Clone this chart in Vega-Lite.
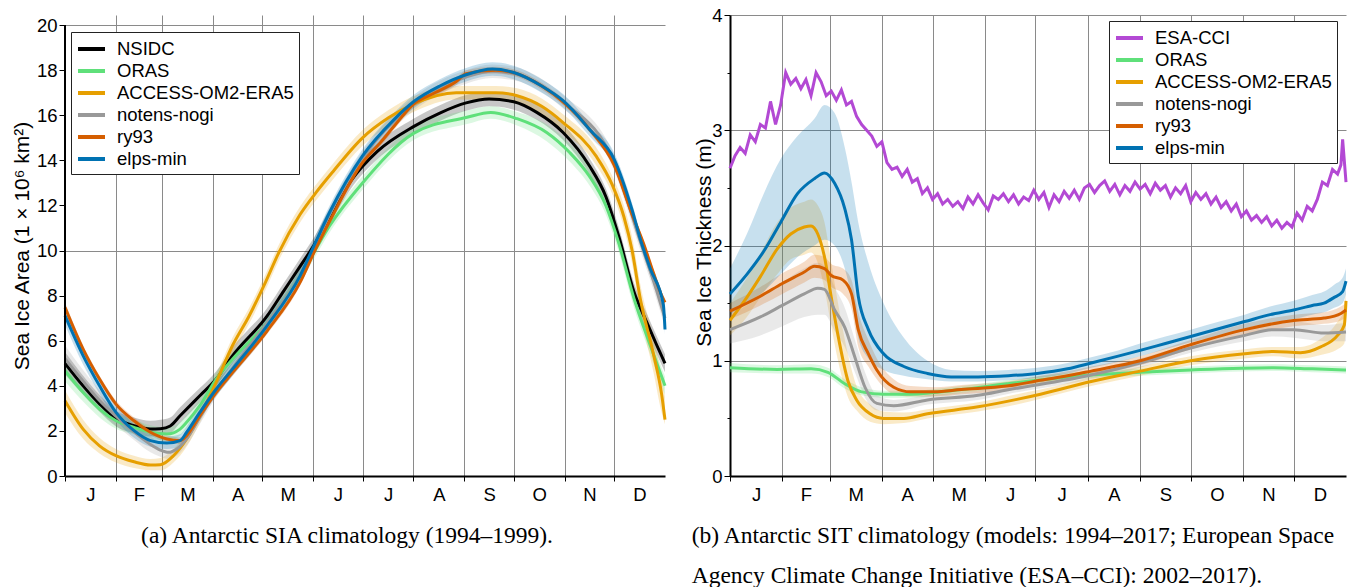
{
"$schema": "https://vega.github.io/schema/vega-lite/v6.json",
"background": "white",
"padding": {"left": 11, "top": 6, "right": 0, "bottom": 0},
"spacing": 20,
"config": {
  "view": {"stroke": null},
  "font": "Liberation Sans",
  "axis": {"labelFont": "Liberation Sans", "labelFontSize": 18.5, "labelColor": "black", "titleFont": "Liberation Sans", "titleFontSize": 21, "titleFontWeight": "normal", "titleColor": "black", "gridColor": "#8a8a8a", "gridWidth": 1, "tickColor": "black", "domainColor": "black", "domainWidth": 2, "tickWidth": 1, "labelPadding": 2, "labelOverlap": false, "labelFlush": false},
  "legend": {"labelFont": "Liberation Sans", "labelFontSize": 18.5, "labelColor": "black", "labelLimit": 400, "symbolType": "M-1,0H1.7", "symbolStrokeWidth": 4, "symbolSize": 400, "symbolOpacity": 1, "strokeColor": "#222222", "padding": 5, "labelOffset": 17, "rowPadding": -0.8, "fillColor": "white", "cornerRadius": 0},
  "title": {"font": "Liberation Serif", "fontSize": 23.5, "fontWeight": "normal", "color": "black"}
},
"datasets": {
"sia": [
{"s":"NSIDC","d":0,"v":5.0,"lo":4.5,"hi":5.5},{"s":"NSIDC","d":11,"v":4.0,"lo":3.6,"hi":4.45},{"s":"NSIDC","d":21,"v":3.2,"lo":2.85,"hi":3.6},{"s":"NSIDC","d":31,"v":2.55,"lo":2.2,"hi":2.9},{"s":"NSIDC","d":42,"v":2.23,"lo":1.9,"hi":2.6},{"s":"NSIDC","d":52,"v":2.08,"lo":1.75,"hi":2.45},{"s":"NSIDC","d":58,"v":2.1,"lo":1.8,"hi":2.5},{"s":"NSIDC","d":64,"v":2.22,"lo":1.9,"hi":2.6},{"s":"NSIDC","d":70,"v":2.67,"lo":2.35,"hi":3.05},{"s":"NSIDC","d":82,"v":3.56,"lo":3.25,"hi":3.9},{"s":"NSIDC","d":92,"v":4.3,"lo":4.0,"hi":4.65},{"s":"NSIDC","d":102,"v":5.34,"lo":5.0,"hi":5.7},{"s":"NSIDC","d":123,"v":7.1,"lo":6.75,"hi":7.45},{"s":"NSIDC","d":133,"v":8.2,"lo":7.85,"hi":8.55},{"s":"NSIDC","d":143,"v":9.3,"lo":8.95,"hi":9.65},{"s":"NSIDC","d":152,"v":10.3,"lo":9.95,"hi":10.65},{"s":"NSIDC","d":161,"v":11.5,"lo":11.15,"hi":11.85},{"s":"NSIDC","d":174,"v":13.1,"lo":12.75,"hi":13.45},{"s":"NSIDC","d":190,"v":14.4,"lo":14.05,"hi":14.75},{"s":"NSIDC","d":212,"v":15.5,"lo":15.15,"hi":15.85},{"s":"NSIDC","d":228,"v":16.1,"lo":15.75,"hi":16.45},{"s":"NSIDC","d":244,"v":16.55,"lo":16.2,"hi":16.9},{"s":"NSIDC","d":258,"v":16.72,"lo":16.4,"hi":17.05},{"s":"NSIDC","d":273,"v":16.6,"lo":16.25,"hi":16.95},{"s":"NSIDC","d":287,"v":16.13,"lo":15.8,"hi":16.5},{"s":"NSIDC","d":303,"v":15.24,"lo":14.9,"hi":15.6},{"s":"NSIDC","d":319,"v":13.76,"lo":13.4,"hi":14.1},{"s":"NSIDC","d":329,"v":12.4,"lo":12.05,"hi":12.75},{"s":"NSIDC","d":337,"v":10.6,"lo":10.2,"hi":11.0},{"s":"NSIDC","d":346,"v":8.2,"lo":7.8,"hi":8.6},{"s":"NSIDC","d":354,"v":6.8,"lo":6.4,"hi":7.2},{"s":"NSIDC","d":360,"v":5.8,"lo":5.4,"hi":6.2},{"s":"NSIDC","d":365,"v":5.0,"lo":4.6,"hi":5.4},
{"s":"ORAS","d":0,"v":4.67,"lo":4.2,"hi":5.1},{"s":"ORAS","d":11,"v":3.71,"lo":3.3,"hi":4.1},{"s":"ORAS","d":21,"v":2.97,"lo":2.6,"hi":3.35},{"s":"ORAS","d":31,"v":2.45,"lo":2.1,"hi":2.8},{"s":"ORAS","d":42,"v":2.16,"lo":1.85,"hi":2.5},{"s":"ORAS","d":52,"v":1.94,"lo":1.65,"hi":2.25},{"s":"ORAS","d":62,"v":1.86,"lo":1.55,"hi":2.15},{"s":"ORAS","d":70,"v":2.08,"lo":1.8,"hi":2.4},{"s":"ORAS","d":74,"v":2.38,"lo":2.1,"hi":2.7},{"s":"ORAS","d":82,"v":3.12,"lo":2.8,"hi":3.45},{"s":"ORAS","d":92,"v":4.3,"lo":4.0,"hi":4.6},{"s":"ORAS","d":102,"v":5.19,"lo":4.9,"hi":5.5},{"s":"ORAS","d":123,"v":6.81,"lo":6.5,"hi":7.1},{"s":"ORAS","d":143,"v":8.88,"lo":8.55,"hi":9.2},{"s":"ORAS","d":152,"v":10.0,"lo":9.7,"hi":10.3},{"s":"ORAS","d":161,"v":11.1,"lo":10.8,"hi":11.4},{"s":"ORAS","d":181,"v":13.0,"lo":12.7,"hi":13.3},{"s":"ORAS","d":212,"v":15.2,"lo":14.9,"hi":15.5},{"s":"ORAS","d":244,"v":15.9,"lo":15.6,"hi":16.2},{"s":"ORAS","d":259,"v":16.13,"lo":15.85,"hi":16.4},{"s":"ORAS","d":275,"v":15.85,"lo":15.55,"hi":16.15},{"s":"ORAS","d":293,"v":15.24,"lo":14.85,"hi":15.6},{"s":"ORAS","d":307,"v":14.35,"lo":13.95,"hi":14.75},{"s":"ORAS","d":319,"v":13.3,"lo":12.9,"hi":13.7},{"s":"ORAS","d":329,"v":12.0,"lo":11.6,"hi":12.4},{"s":"ORAS","d":337,"v":10.3,"lo":9.9,"hi":10.7},{"s":"ORAS","d":346,"v":7.9,"lo":7.5,"hi":8.3},{"s":"ORAS","d":355,"v":6.0,"lo":5.6,"hi":6.4},{"s":"ORAS","d":360,"v":5.0,"lo":4.6,"hi":5.4},{"s":"ORAS","d":365,"v":4.0,"lo":3.6,"hi":4.4},
{"s":"ACCESS-OM2-ERA5","d":0,"v":3.34,"lo":2.8,"hi":3.8},{"s":"ACCESS-OM2-ERA5","d":11,"v":2.08,"lo":1.65,"hi":2.5},{"s":"ACCESS-OM2-ERA5","d":21,"v":1.34,"lo":1.0,"hi":1.7},{"s":"ACCESS-OM2-ERA5","d":31,"v":0.9,"lo":0.6,"hi":1.2},{"s":"ACCESS-OM2-ERA5","d":42,"v":0.63,"lo":0.35,"hi":0.9},{"s":"ACCESS-OM2-ERA5","d":52,"v":0.49,"lo":0.25,"hi":0.75},{"s":"ACCESS-OM2-ERA5","d":58,"v":0.5,"lo":0.25,"hi":0.8},{"s":"ACCESS-OM2-ERA5","d":66,"v":0.9,"lo":0.6,"hi":1.2},{"s":"ACCESS-OM2-ERA5","d":74,"v":1.64,"lo":1.3,"hi":1.95},{"s":"ACCESS-OM2-ERA5","d":82,"v":2.67,"lo":2.35,"hi":3.0},{"s":"ACCESS-OM2-ERA5","d":92,"v":4.16,"lo":3.85,"hi":4.5},{"s":"ACCESS-OM2-ERA5","d":102,"v":5.8,"lo":5.45,"hi":6.15},{"s":"ACCESS-OM2-ERA5","d":112,"v":7.1,"lo":6.75,"hi":7.45},{"s":"ACCESS-OM2-ERA5","d":122,"v":8.6,"lo":8.25,"hi":8.95},{"s":"ACCESS-OM2-ERA5","d":130,"v":9.9,"lo":9.55,"hi":10.25},{"s":"ACCESS-OM2-ERA5","d":143,"v":11.6,"lo":11.25,"hi":11.95},{"s":"ACCESS-OM2-ERA5","d":153,"v":12.6,"lo":12.25,"hi":12.95},{"s":"ACCESS-OM2-ERA5","d":163,"v":13.5,"lo":13.15,"hi":13.85},{"s":"ACCESS-OM2-ERA5","d":181,"v":15.0,"lo":14.65,"hi":15.35},{"s":"ACCESS-OM2-ERA5","d":197,"v":15.9,"lo":15.55,"hi":16.25},{"s":"ACCESS-OM2-ERA5","d":212,"v":16.5,"lo":16.15,"hi":16.85},{"s":"ACCESS-OM2-ERA5","d":238,"v":17.0,"lo":16.7,"hi":17.3},{"s":"ACCESS-OM2-ERA5","d":262,"v":17.0,"lo":16.7,"hi":17.3},{"s":"ACCESS-OM2-ERA5","d":275,"v":16.87,"lo":16.55,"hi":17.2},{"s":"ACCESS-OM2-ERA5","d":290,"v":16.4,"lo":16.05,"hi":16.75},{"s":"ACCESS-OM2-ERA5","d":303,"v":15.68,"lo":15.3,"hi":16.05},{"s":"ACCESS-OM2-ERA5","d":323,"v":14.2,"lo":13.8,"hi":14.6},{"s":"ACCESS-OM2-ERA5","d":333,"v":12.9,"lo":12.5,"hi":13.3},{"s":"ACCESS-OM2-ERA5","d":340,"v":11.5,"lo":11.0,"hi":12.0},{"s":"ACCESS-OM2-ERA5","d":345,"v":10.0,"lo":9.4,"hi":10.6},{"s":"ACCESS-OM2-ERA5","d":350,"v":7.85,"lo":7.2,"hi":8.5},{"s":"ACCESS-OM2-ERA5","d":358,"v":5.4,"lo":4.6,"hi":6.1},{"s":"ACCESS-OM2-ERA5","d":363,"v":3.6,"lo":2.8,"hi":4.4},{"s":"ACCESS-OM2-ERA5","d":365,"v":2.5,"lo":2.3,"hi":3.5},
{"s":"notens-nogi","d":0,"v":5.2,"lo":4.6,"hi":5.8},{"s":"notens-nogi","d":11,"v":4.2,"lo":3.7,"hi":4.7},{"s":"notens-nogi","d":21,"v":3.35,"lo":2.9,"hi":3.8},{"s":"notens-nogi","d":31,"v":2.65,"lo":2.25,"hi":3.05},{"s":"notens-nogi","d":42,"v":1.95,"lo":1.6,"hi":2.3},{"s":"notens-nogi","d":52,"v":1.4,"lo":1.05,"hi":1.75},{"s":"notens-nogi","d":58,"v":1.15,"lo":0.85,"hi":1.5},{"s":"notens-nogi","d":63,"v":1.05,"lo":0.75,"hi":1.4},{"s":"notens-nogi","d":68,"v":1.2,"lo":0.9,"hi":1.55},{"s":"notens-nogi","d":74,"v":1.65,"lo":1.35,"hi":1.95},{"s":"notens-nogi","d":82,"v":2.6,"lo":2.3,"hi":2.9},{"s":"notens-nogi","d":92,"v":3.8,"lo":3.5,"hi":4.1},{"s":"notens-nogi","d":102,"v":4.8,"lo":4.5,"hi":5.1},{"s":"notens-nogi","d":123,"v":6.8,"lo":6.5,"hi":7.1},{"s":"notens-nogi","d":143,"v":8.9,"lo":8.6,"hi":9.2},{"s":"notens-nogi","d":152,"v":10.2,"lo":9.9,"hi":10.5},{"s":"notens-nogi","d":161,"v":11.6,"lo":11.3,"hi":11.9},{"s":"notens-nogi","d":181,"v":14.1,"lo":13.8,"hi":14.4},{"s":"notens-nogi","d":212,"v":16.5,"lo":16.2,"hi":16.8},{"s":"notens-nogi","d":244,"v":17.7,"lo":17.4,"hi":18.0},{"s":"notens-nogi","d":260,"v":17.95,"lo":17.65,"hi":18.25},{"s":"notens-nogi","d":273,"v":17.85,"lo":17.55,"hi":18.15},{"s":"notens-nogi","d":303,"v":16.6,"lo":16.3,"hi":16.9},{"s":"notens-nogi","d":334,"v":13.9,"lo":13.55,"hi":14.25},{"s":"notens-nogi","d":350,"v":10.4,"lo":10.0,"hi":10.8},{"s":"notens-nogi","d":360,"v":8.2,"lo":7.8,"hi":8.6},{"s":"notens-nogi","d":365,"v":7.0,"lo":6.6,"hi":7.4},
{"s":"ry93","d":0,"v":7.48,"lo":7.3,"hi":7.7},{"s":"ry93","d":11,"v":5.63,"lo":5.45,"hi":5.8},{"s":"ry93","d":21,"v":4.3,"lo":4.15,"hi":4.45},{"s":"ry93","d":31,"v":3.19,"lo":3.05,"hi":3.35},{"s":"ry93","d":42,"v":2.45,"lo":2.3,"hi":2.6},{"s":"ry93","d":52,"v":1.94,"lo":1.8,"hi":2.1},{"s":"ry93","d":62,"v":1.64,"lo":1.5,"hi":1.8},{"s":"ry93","d":70,"v":1.57,"lo":1.42,"hi":1.72},{"s":"ry93","d":74,"v":1.79,"lo":1.64,"hi":1.94},{"s":"ry93","d":82,"v":2.67,"lo":2.52,"hi":2.82},{"s":"ry93","d":92,"v":3.71,"lo":3.56,"hi":3.86},{"s":"ry93","d":102,"v":4.6,"lo":4.45,"hi":4.75},{"s":"ry93","d":123,"v":6.44,"lo":6.29,"hi":6.6},{"s":"ry93","d":143,"v":8.59,"lo":8.44,"hi":8.75},{"s":"ry93","d":152,"v":10.0,"lo":9.85,"hi":10.15},{"s":"ry93","d":161,"v":11.3,"lo":11.15,"hi":11.45},{"s":"ry93","d":181,"v":13.9,"lo":13.75,"hi":14.05},{"s":"ry93","d":192,"v":14.8,"lo":14.65,"hi":14.95},{"s":"ry93","d":200,"v":15.5,"lo":15.35,"hi":15.65},{"s":"ry93","d":212,"v":16.5,"lo":16.35,"hi":16.65},{"s":"ry93","d":225,"v":17.0,"lo":16.85,"hi":17.15},{"s":"ry93","d":238,"v":17.5,"lo":17.35,"hi":17.65},{"s":"ry93","d":244,"v":17.85,"lo":17.7,"hi":18.0},{"s":"ry93","d":262,"v":18.0,"lo":17.85,"hi":18.15},{"s":"ry93","d":275,"v":17.85,"lo":17.7,"hi":18.0},{"s":"ry93","d":290,"v":17.3,"lo":17.15,"hi":17.45},{"s":"ry93","d":303,"v":16.6,"lo":16.45,"hi":16.75},{"s":"ry93","d":320,"v":15.3,"lo":15.15,"hi":15.45},{"s":"ry93","d":334,"v":13.8,"lo":13.65,"hi":13.95},{"s":"ry93","d":345,"v":11.6,"lo":11.45,"hi":11.75},{"s":"ry93","d":352,"v":10.3,"lo":10.15,"hi":10.45},{"s":"ry93","d":358,"v":9.0,"lo":8.85,"hi":9.15},{"s":"ry93","d":363,"v":8.0,"lo":7.85,"hi":8.15},{"s":"ry93","d":365,"v":7.7,"lo":7.55,"hi":7.85},
{"s":"elps-min","d":0,"v":7.11,"lo":6.7,"hi":7.5},{"s":"elps-min","d":11,"v":5.34,"lo":4.95,"hi":5.7},{"s":"elps-min","d":21,"v":4.0,"lo":3.65,"hi":4.35},{"s":"elps-min","d":31,"v":2.82,"lo":2.5,"hi":3.15},{"s":"elps-min","d":42,"v":2.01,"lo":1.7,"hi":2.3},{"s":"elps-min","d":52,"v":1.57,"lo":1.3,"hi":1.85},{"s":"elps-min","d":62,"v":1.46,"lo":1.2,"hi":1.75},{"s":"elps-min","d":70,"v":1.57,"lo":1.3,"hi":1.85},{"s":"elps-min","d":74,"v":1.94,"lo":1.65,"hi":2.2},{"s":"elps-min","d":82,"v":2.82,"lo":2.5,"hi":3.1},{"s":"elps-min","d":92,"v":3.86,"lo":3.55,"hi":4.15},{"s":"elps-min","d":102,"v":4.75,"lo":4.45,"hi":5.05},{"s":"elps-min","d":123,"v":6.67,"lo":6.35,"hi":7.0},{"s":"elps-min","d":143,"v":8.88,"lo":8.55,"hi":9.2},{"s":"elps-min","d":152,"v":10.3,"lo":10.0,"hi":10.6},{"s":"elps-min","d":161,"v":11.7,"lo":11.4,"hi":12.0},{"s":"elps-min","d":181,"v":14.2,"lo":13.9,"hi":14.5},{"s":"elps-min","d":200,"v":15.8,"lo":15.5,"hi":16.1},{"s":"elps-min","d":212,"v":16.6,"lo":16.3,"hi":16.9},{"s":"elps-min","d":228,"v":17.3,"lo":17.0,"hi":17.6},{"s":"elps-min","d":244,"v":17.8,"lo":17.5,"hi":18.1},{"s":"elps-min","d":260,"v":18.05,"lo":17.75,"hi":18.35},{"s":"elps-min","d":273,"v":17.9,"lo":17.6,"hi":18.2},{"s":"elps-min","d":290,"v":17.3,"lo":17.0,"hi":17.6},{"s":"elps-min","d":303,"v":16.65,"lo":16.35,"hi":16.95},{"s":"elps-min","d":320,"v":15.3,"lo":15.0,"hi":15.6},{"s":"elps-min","d":334,"v":14.06,"lo":13.75,"hi":14.35},{"s":"elps-min","d":345,"v":11.8,"lo":11.5,"hi":12.1},{"s":"elps-min","d":350,"v":10.5,"lo":10.2,"hi":10.8},{"s":"elps-min","d":356,"v":9.2,"lo":8.9,"hi":9.5},{"s":"elps-min","d":364,"v":7.6,"lo":7.3,"hi":7.9},{"s":"elps-min","d":365,"v":6.5,"lo":6.3,"hi":7.6}
],
"sit": [
{"s":"ESA-CCI","d":0,"v":2.67},{"s":"ESA-CCI","d":3,"v":2.78},{"s":"ESA-CCI","d":6,"v":2.85},{"s":"ESA-CCI","d":9,"v":2.8},{"s":"ESA-CCI","d":12,"v":2.96},{"s":"ESA-CCI","d":15,"v":2.9},{"s":"ESA-CCI","d":18,"v":3.05},{"s":"ESA-CCI","d":21,"v":3.02},{"s":"ESA-CCI","d":24,"v":3.25},{"s":"ESA-CCI","d":27,"v":3.05},{"s":"ESA-CCI","d":30,"v":3.22},{"s":"ESA-CCI","d":33,"v":3.5},{"s":"ESA-CCI","d":36,"v":3.4},{"s":"ESA-CCI","d":39,"v":3.45},{"s":"ESA-CCI","d":42,"v":3.36},{"s":"ESA-CCI","d":45,"v":3.44},{"s":"ESA-CCI","d":48,"v":3.3},{"s":"ESA-CCI","d":51,"v":3.5},{"s":"ESA-CCI","d":54,"v":3.42},{"s":"ESA-CCI","d":57,"v":3.3},{"s":"ESA-CCI","d":60,"v":3.34},{"s":"ESA-CCI","d":63,"v":3.26},{"s":"ESA-CCI","d":66,"v":3.35},{"s":"ESA-CCI","d":69,"v":3.22},{"s":"ESA-CCI","d":72,"v":3.25},{"s":"ESA-CCI","d":75,"v":3.12},{"s":"ESA-CCI","d":78,"v":3.05},{"s":"ESA-CCI","d":81,"v":3.0},{"s":"ESA-CCI","d":84,"v":2.95},{"s":"ESA-CCI","d":87,"v":2.86},{"s":"ESA-CCI","d":90,"v":2.9},{"s":"ESA-CCI","d":93,"v":2.72},{"s":"ESA-CCI","d":96,"v":2.66},{"s":"ESA-CCI","d":99,"v":2.68},{"s":"ESA-CCI","d":102,"v":2.6},{"s":"ESA-CCI","d":105,"v":2.66},{"s":"ESA-CCI","d":108,"v":2.55},{"s":"ESA-CCI","d":111,"v":2.58},{"s":"ESA-CCI","d":114,"v":2.45},{"s":"ESA-CCI","d":117,"v":2.5},{"s":"ESA-CCI","d":120,"v":2.4},{"s":"ESA-CCI","d":123,"v":2.45},{"s":"ESA-CCI","d":126,"v":2.36},{"s":"ESA-CCI","d":129,"v":2.4},{"s":"ESA-CCI","d":132,"v":2.34},{"s":"ESA-CCI","d":135,"v":2.38},{"s":"ESA-CCI","d":138,"v":2.32},{"s":"ESA-CCI","d":141,"v":2.42},{"s":"ESA-CCI","d":144,"v":2.36},{"s":"ESA-CCI","d":147,"v":2.44},{"s":"ESA-CCI","d":150,"v":2.37},{"s":"ESA-CCI","d":153,"v":2.31},{"s":"ESA-CCI","d":156,"v":2.43},{"s":"ESA-CCI","d":159,"v":2.4},{"s":"ESA-CCI","d":162,"v":2.45},{"s":"ESA-CCI","d":165,"v":2.38},{"s":"ESA-CCI","d":168,"v":2.44},{"s":"ESA-CCI","d":171,"v":2.36},{"s":"ESA-CCI","d":174,"v":2.42},{"s":"ESA-CCI","d":177,"v":2.39},{"s":"ESA-CCI","d":180,"v":2.48},{"s":"ESA-CCI","d":183,"v":2.4},{"s":"ESA-CCI","d":186,"v":2.46},{"s":"ESA-CCI","d":189,"v":2.33},{"s":"ESA-CCI","d":192,"v":2.44},{"s":"ESA-CCI","d":195,"v":2.38},{"s":"ESA-CCI","d":198,"v":2.47},{"s":"ESA-CCI","d":201,"v":2.41},{"s":"ESA-CCI","d":204,"v":2.48},{"s":"ESA-CCI","d":207,"v":2.4},{"s":"ESA-CCI","d":210,"v":2.5},{"s":"ESA-CCI","d":213,"v":2.53},{"s":"ESA-CCI","d":216,"v":2.46},{"s":"ESA-CCI","d":219,"v":2.52},{"s":"ESA-CCI","d":222,"v":2.56},{"s":"ESA-CCI","d":225,"v":2.47},{"s":"ESA-CCI","d":228,"v":2.53},{"s":"ESA-CCI","d":231,"v":2.44},{"s":"ESA-CCI","d":234,"v":2.52},{"s":"ESA-CCI","d":237,"v":2.47},{"s":"ESA-CCI","d":240,"v":2.55},{"s":"ESA-CCI","d":243,"v":2.49},{"s":"ESA-CCI","d":246,"v":2.53},{"s":"ESA-CCI","d":249,"v":2.45},{"s":"ESA-CCI","d":252,"v":2.54},{"s":"ESA-CCI","d":255,"v":2.48},{"s":"ESA-CCI","d":258,"v":2.52},{"s":"ESA-CCI","d":261,"v":2.42},{"s":"ESA-CCI","d":264,"v":2.5},{"s":"ESA-CCI","d":267,"v":2.45},{"s":"ESA-CCI","d":270,"v":2.52},{"s":"ESA-CCI","d":273,"v":2.38},{"s":"ESA-CCI","d":276,"v":2.46},{"s":"ESA-CCI","d":279,"v":2.4},{"s":"ESA-CCI","d":282,"v":2.45},{"s":"ESA-CCI","d":285,"v":2.36},{"s":"ESA-CCI","d":288,"v":2.42},{"s":"ESA-CCI","d":291,"v":2.33},{"s":"ESA-CCI","d":294,"v":2.38},{"s":"ESA-CCI","d":297,"v":2.3},{"s":"ESA-CCI","d":300,"v":2.36},{"s":"ESA-CCI","d":303,"v":2.25},{"s":"ESA-CCI","d":306,"v":2.3},{"s":"ESA-CCI","d":309,"v":2.22},{"s":"ESA-CCI","d":312,"v":2.26},{"s":"ESA-CCI","d":315,"v":2.2},{"s":"ESA-CCI","d":318,"v":2.25},{"s":"ESA-CCI","d":321,"v":2.17},{"s":"ESA-CCI","d":324,"v":2.22},{"s":"ESA-CCI","d":327,"v":2.15},{"s":"ESA-CCI","d":330,"v":2.2},{"s":"ESA-CCI","d":333,"v":2.16},{"s":"ESA-CCI","d":336,"v":2.28},{"s":"ESA-CCI","d":339,"v":2.22},{"s":"ESA-CCI","d":342,"v":2.34},{"s":"ESA-CCI","d":345,"v":2.3},{"s":"ESA-CCI","d":348,"v":2.4},{"s":"ESA-CCI","d":351,"v":2.55},{"s":"ESA-CCI","d":354,"v":2.52},{"s":"ESA-CCI","d":357,"v":2.66},{"s":"ESA-CCI","d":360,"v":2.62},{"s":"ESA-CCI","d":362,"v":2.7},{"s":"ESA-CCI","d":363,"v":2.92},{"s":"ESA-CCI","d":365,"v":2.55},
{"s":"ORAS","d":0,"v":0.94,"lo":0.9,"hi":0.98},{"s":"ORAS","d":28,"v":0.925,"lo":0.89,"hi":0.96},{"s":"ORAS","d":48,"v":0.93,"lo":0.89,"hi":0.97},{"s":"ORAS","d":58,"v":0.9,"lo":0.86,"hi":0.94},{"s":"ORAS","d":68,"v":0.8,"lo":0.76,"hi":0.84},{"s":"ORAS","d":78,"v":0.73,"lo":0.7,"hi":0.77},{"s":"ORAS","d":91,"v":0.71,"lo":0.68,"hi":0.74},{"s":"ORAS","d":107,"v":0.71,"lo":0.68,"hi":0.74},{"s":"ORAS","d":137,"v":0.75,"lo":0.72,"hi":0.78},{"s":"ORAS","d":164,"v":0.8,"lo":0.77,"hi":0.83},{"s":"ORAS","d":214,"v":0.876,"lo":0.85,"hi":0.91},{"s":"ORAS","d":243,"v":0.9,"lo":0.87,"hi":0.93},{"s":"ORAS","d":273,"v":0.92,"lo":0.89,"hi":0.95},{"s":"ORAS","d":322,"v":0.94,"lo":0.91,"hi":0.97},{"s":"ORAS","d":345,"v":0.93,"lo":0.9,"hi":0.96},{"s":"ORAS","d":365,"v":0.92,"lo":0.89,"hi":0.95},
{"s":"ACCESS-OM2-ERA5","d":0,"v":1.35,"lo":1.22,"hi":1.5},{"s":"ACCESS-OM2-ERA5","d":10,"v":1.55,"lo":1.38,"hi":1.72},{"s":"ACCESS-OM2-ERA5","d":18,"v":1.73,"lo":1.55,"hi":1.93},{"s":"ACCESS-OM2-ERA5","d":28,"v":1.97,"lo":1.75,"hi":2.2},{"s":"ACCESS-OM2-ERA5","d":36,"v":2.1,"lo":1.88,"hi":2.33},{"s":"ACCESS-OM2-ERA5","d":44,"v":2.16,"lo":1.92,"hi":2.38},{"s":"ACCESS-OM2-ERA5","d":48,"v":2.17,"lo":1.94,"hi":2.4},{"s":"ACCESS-OM2-ERA5","d":52,"v":2.1,"lo":1.85,"hi":2.35},{"s":"ACCESS-OM2-ERA5","d":56,"v":1.9,"lo":1.62,"hi":2.2},{"s":"ACCESS-OM2-ERA5","d":60,"v":1.55,"lo":1.3,"hi":1.85},{"s":"ACCESS-OM2-ERA5","d":64,"v":1.22,"lo":1.0,"hi":1.5},{"s":"ACCESS-OM2-ERA5","d":70,"v":0.82,"lo":0.68,"hi":1.05},{"s":"ACCESS-OM2-ERA5","d":75,"v":0.66,"lo":0.57,"hi":0.78},{"s":"ACCESS-OM2-ERA5","d":83,"v":0.54,"lo":0.47,"hi":0.62},{"s":"ACCESS-OM2-ERA5","d":91,"v":0.5,"lo":0.45,"hi":0.56},{"s":"ACCESS-OM2-ERA5","d":103,"v":0.5,"lo":0.46,"hi":0.55},{"s":"ACCESS-OM2-ERA5","d":117,"v":0.54,"lo":0.5,"hi":0.58},{"s":"ACCESS-OM2-ERA5","d":147,"v":0.6,"lo":0.56,"hi":0.64},{"s":"ACCESS-OM2-ERA5","d":170,"v":0.665,"lo":0.62,"hi":0.71},{"s":"ACCESS-OM2-ERA5","d":184,"v":0.71,"lo":0.67,"hi":0.75},{"s":"ACCESS-OM2-ERA5","d":214,"v":0.82,"lo":0.78,"hi":0.86},{"s":"ACCESS-OM2-ERA5","d":243,"v":0.91,"lo":0.87,"hi":0.95},{"s":"ACCESS-OM2-ERA5","d":273,"v":1.0,"lo":0.96,"hi":1.04},{"s":"ACCESS-OM2-ERA5","d":305,"v":1.06,"lo":1.02,"hi":1.1},{"s":"ACCESS-OM2-ERA5","d":322,"v":1.08,"lo":1.04,"hi":1.12},{"s":"ACCESS-OM2-ERA5","d":338,"v":1.07,"lo":1.02,"hi":1.12},{"s":"ACCESS-OM2-ERA5","d":350,"v":1.12,"lo":1.05,"hi":1.19},{"s":"ACCESS-OM2-ERA5","d":360,"v":1.22,"lo":1.1,"hi":1.34},{"s":"ACCESS-OM2-ERA5","d":364,"v":1.31,"lo":1.15,"hi":1.45},{"s":"ACCESS-OM2-ERA5","d":365,"v":1.52,"lo":1.3,"hi":1.6},
{"s":"notens-nogi","d":0,"v":1.27,"lo":1.15,"hi":1.4},{"s":"notens-nogi","d":18,"v":1.38,"lo":1.22,"hi":1.55},{"s":"notens-nogi","d":31,"v":1.48,"lo":1.3,"hi":1.68},{"s":"notens-nogi","d":44,"v":1.58,"lo":1.38,"hi":1.8},{"s":"notens-nogi","d":52,"v":1.63,"lo":1.4,"hi":1.85},{"s":"notens-nogi","d":56,"v":1.62,"lo":1.4,"hi":1.82},{"s":"notens-nogi","d":62,"v":1.44,"lo":1.26,"hi":1.64},{"s":"notens-nogi","d":68,"v":1.29,"lo":1.12,"hi":1.46},{"s":"notens-nogi","d":74,"v":1.03,"lo":0.9,"hi":1.18},{"s":"notens-nogi","d":80,"v":0.77,"lo":0.68,"hi":0.9},{"s":"notens-nogi","d":87,"v":0.63,"lo":0.57,"hi":0.7},{"s":"notens-nogi","d":97,"v":0.61,"lo":0.56,"hi":0.66},{"s":"notens-nogi","d":117,"v":0.66,"lo":0.62,"hi":0.7},{"s":"notens-nogi","d":147,"v":0.7,"lo":0.66,"hi":0.74},{"s":"notens-nogi","d":164,"v":0.746,"lo":0.71,"hi":0.79},{"s":"notens-nogi","d":214,"v":0.876,"lo":0.84,"hi":0.92},{"s":"notens-nogi","d":243,"v":0.98,"lo":0.94,"hi":1.02},{"s":"notens-nogi","d":273,"v":1.11,"lo":1.07,"hi":1.15},{"s":"notens-nogi","d":305,"v":1.22,"lo":1.17,"hi":1.27},{"s":"notens-nogi","d":322,"v":1.27,"lo":1.21,"hi":1.33},{"s":"notens-nogi","d":334,"v":1.27,"lo":1.2,"hi":1.34},{"s":"notens-nogi","d":352,"v":1.24,"lo":1.17,"hi":1.31},{"s":"notens-nogi","d":365,"v":1.25,"lo":1.17,"hi":1.33},
{"s":"ry93","d":0,"v":1.43,"lo":1.36,"hi":1.5},{"s":"ry93","d":18,"v":1.56,"lo":1.48,"hi":1.64},{"s":"ry93","d":31,"v":1.67,"lo":1.58,"hi":1.76},{"s":"ry93","d":44,"v":1.77,"lo":1.68,"hi":1.86},{"s":"ry93","d":50,"v":1.82,"lo":1.72,"hi":1.92},{"s":"ry93","d":56,"v":1.8,"lo":1.7,"hi":1.9},{"s":"ry93","d":60,"v":1.74,"lo":1.64,"hi":1.84},{"s":"ry93","d":67,"v":1.7,"lo":1.58,"hi":1.8},{"s":"ry93","d":72,"v":1.58,"lo":1.45,"hi":1.7},{"s":"ry93","d":76,"v":1.27,"lo":1.12,"hi":1.42},{"s":"ry93","d":82,"v":1.06,"lo":0.95,"hi":1.18},{"s":"ry93","d":87,"v":0.92,"lo":0.84,"hi":1.02},{"s":"ry93","d":97,"v":0.77,"lo":0.71,"hi":0.84},{"s":"ry93","d":107,"v":0.73,"lo":0.69,"hi":0.78},{"s":"ry93","d":121,"v":0.73,"lo":0.69,"hi":0.77},{"s":"ry93","d":137,"v":0.75,"lo":0.71,"hi":0.79},{"s":"ry93","d":164,"v":0.78,"lo":0.74,"hi":0.82},{"s":"ry93","d":184,"v":0.83,"lo":0.79,"hi":0.87},{"s":"ry93","d":204,"v":0.88,"lo":0.84,"hi":0.92},{"s":"ry93","d":214,"v":0.91,"lo":0.87,"hi":0.95},{"s":"ry93","d":243,"v":1.0,"lo":0.96,"hi":1.04},{"s":"ry93","d":273,"v":1.14,"lo":1.1,"hi":1.18},{"s":"ry93","d":305,"v":1.27,"lo":1.22,"hi":1.32},{"s":"ry93","d":334,"v":1.35,"lo":1.3,"hi":1.4},{"s":"ry93","d":352,"v":1.37,"lo":1.32,"hi":1.42},{"s":"ry93","d":362,"v":1.41,"lo":1.35,"hi":1.47},{"s":"ry93","d":365,"v":1.44,"lo":1.38,"hi":1.5},
{"s":"elps-min","d":0,"v":1.58,"lo":1.4,"hi":1.8},{"s":"elps-min","d":10,"v":1.75,"lo":1.5,"hi":2.1},{"s":"elps-min","d":20,"v":1.95,"lo":1.6,"hi":2.45},{"s":"elps-min","d":30,"v":2.2,"lo":1.75,"hi":2.75},{"s":"elps-min","d":40,"v":2.45,"lo":1.9,"hi":2.95},{"s":"elps-min","d":50,"v":2.58,"lo":2.0,"hi":3.1},{"s":"elps-min","d":56,"v":2.63,"lo":2.05,"hi":3.22},{"s":"elps-min","d":62,"v":2.54,"lo":2.0,"hi":3.15},{"s":"elps-min","d":68,"v":2.32,"lo":1.8,"hi":2.85},{"s":"elps-min","d":72,"v":2.05,"lo":1.55,"hi":2.55},{"s":"elps-min","d":76,"v":1.56,"lo":1.2,"hi":2.2},{"s":"elps-min","d":82,"v":1.27,"lo":1.02,"hi":1.85},{"s":"elps-min","d":91,"v":1.06,"lo":0.92,"hi":1.5},{"s":"elps-min","d":103,"v":0.95,"lo":0.87,"hi":1.2},{"s":"elps-min","d":117,"v":0.89,"lo":0.84,"hi":1.0},{"s":"elps-min","d":131,"v":0.86,"lo":0.82,"hi":0.92},{"s":"elps-min","d":147,"v":0.86,"lo":0.82,"hi":0.91},{"s":"elps-min","d":165,"v":0.87,"lo":0.83,"hi":0.92},{"s":"elps-min","d":182,"v":0.89,"lo":0.85,"hi":0.94},{"s":"elps-min","d":200,"v":0.93,"lo":0.89,"hi":0.98},{"s":"elps-min","d":214,"v":0.98,"lo":0.94,"hi":1.03},{"s":"elps-min","d":230,"v":1.04,"lo":0.99,"hi":1.09},{"s":"elps-min","d":243,"v":1.09,"lo":1.04,"hi":1.15},{"s":"elps-min","d":258,"v":1.15,"lo":1.1,"hi":1.21},{"s":"elps-min","d":273,"v":1.21,"lo":1.16,"hi":1.27},{"s":"elps-min","d":290,"v":1.28,"lo":1.22,"hi":1.34},{"s":"elps-min","d":305,"v":1.34,"lo":1.28,"hi":1.4},{"s":"elps-min","d":320,"v":1.4,"lo":1.33,"hi":1.47},{"s":"elps-min","d":334,"v":1.44,"lo":1.36,"hi":1.52},{"s":"elps-min","d":345,"v":1.48,"lo":1.4,"hi":1.57},{"s":"elps-min","d":352,"v":1.5,"lo":1.42,"hi":1.6},{"s":"elps-min","d":358,"v":1.55,"lo":1.46,"hi":1.66},{"s":"elps-min","d":363,"v":1.6,"lo":1.5,"hi":1.72},{"s":"elps-min","d":365,"v":1.69,"lo":1.58,"hi":1.8}
]
},
"hconcat": [
{
  "width": 600, "height": 461,
  "data": {"name": "sia"},
  "title": {"text": "(a) Antarctic SIA climatology (1994–1999).", "orient": "bottom", "anchor": "middle", "frame": "group", "dx": -18, "offset": 20},
  "encoding": {
    "x": {"field": "d", "type": "quantitative", "scale": {"domain": [0, 365], "nice": false, "zero": false},
          "axis": {"title": null, "domain": true, "values": [0,31,59,90,120,151,181,212,243,273,304,334,15.5,45,74.5,105,135.5,166,196.5,227.5,258,288.5,319,349.5],
                   "labelExpr": "datum.value==15.5?'J':datum.value==45?'F':datum.value==74.5?'M':datum.value==105?'A':datum.value==135.5?'M':datum.value==166?'J':datum.value==196.5?'J':datum.value==227.5?'A':datum.value==258?'S':datum.value==288.5?'O':datum.value==319?'N':datum.value==349.5?'D':''",
                   "grid": true,
                   "gridOpacity": {"condition": {"test": "indexof([31,59,90,120,151,181,212,243,273,304,334], datum.value) >= 0", "value": 1}, "value": 0},
                   "tickOpacity": {"condition": {"test": "indexof([0,31,59,90,120,151,181,212,243,273,304,334], datum.value) >= 0", "value": 1}, "value": 0},
                   "tickSize": 5, "labelPadding": 4}}
  },
  "layer": [
    {"mark": {"type": "area", "opacity": 0.22, "interpolate": "monotone"},
     "encoding": {
       "y": {"field": "lo", "type": "quantitative", "scale": {"domain": [0, 20.45], "nice": false, "zero": false}},
       "y2": {"field": "hi"},
       "color": {"field": "s", "type": "nominal", "scale": {"domain": ["NSIDC","ORAS","ACCESS-OM2-ERA5","notens-nogi","ry93","elps-min"], "range": ["#000000","#5fe07a","#e69f00","#999999","#d55e00","#0072b2"]},
                 "legend": {"orient": "none", "legendX": 6, "legendY": 17, "title": null}}
     }},
    {"mark": {"type": "line", "strokeWidth": 3, "interpolate": "monotone"},
     "encoding": {
       "y": {"field": "v", "type": "quantitative", "scale": {"domain": [0, 20.45], "nice": false, "zero": false},
             "axis": {"title": "Sea Ice Area (1 × 10⁶ km²)", "domain": false, "grid": true,
                      "values": [0,1,2,3,4,5,6,7,8,9,10,11,12,13,14,15,16,17,18,19,20],
                      "labelExpr": "datum.value % 2 == 0 ? datum.label : ''",
                      "gridOpacity": {"condition": {"test": "datum.value % 5 == 0 && datum.value > 0", "value": 1}, "value": 0},
                      "tickSize": {"condition": {"test": "datum.value % 2 == 0", "value": 6}, "value": 3},
                      "titlePadding": 4}},
       "color": {"field": "s", "type": "nominal", "scale": {"domain": ["NSIDC","ORAS","ACCESS-OM2-ERA5","notens-nogi","ry93","elps-min"], "range": ["#000000","#5fe07a","#e69f00","#999999","#d55e00","#0072b2"]},
                 "legend": {"orient": "none", "legendX": 6, "legendY": 17, "title": null}}
     }},
    {"mark": {"type": "rule", "strokeWidth": 2, "color": "black"},
     "encoding": {
       "x": {"datum": 0, "type": "quantitative"},
       "y": {"datum": 0, "type": "quantitative"},
       "y2": {"datum": 20}
     }}
  ]
},
{
  "width": 616, "height": 461,
  "data": {"name": "sit"},
  "title": {"text": ["(b) Antarctic SIT climatology (models: 1994–2017; European Space", "Agency Climate Change Initiative (ESA–CCI): 2002–2017)."], "orient": "bottom", "anchor": "start", "frame": "bounds", "dx": -2, "offset": 20, "lineHeight": 40},
  "encoding": {
    "x": {"field": "d", "type": "quantitative", "scale": {"domain": [0, 365], "nice": false, "zero": false},
          "axis": {"title": null, "domain": true, "values": [0,31,59,90,120,151,181,212,243,273,304,334,15.5,45,74.5,105,135.5,166,196.5,227.5,258,288.5,319,349.5],
                   "labelExpr": "datum.value==15.5?'J':datum.value==45?'F':datum.value==74.5?'M':datum.value==105?'A':datum.value==135.5?'M':datum.value==166?'J':datum.value==196.5?'J':datum.value==227.5?'A':datum.value==258?'S':datum.value==288.5?'O':datum.value==319?'N':datum.value==349.5?'D':''",
                   "grid": true,
                   "gridOpacity": {"condition": {"test": "indexof([31,59,90,120,151,181,212,243,273,304,334], datum.value) >= 0", "value": 1}, "value": 0},
                   "tickOpacity": {"condition": {"test": "indexof([0,31,59,90,120,151,181,212,243,273,304,334], datum.value) >= 0", "value": 1}, "value": 0},
                   "tickSize": 5, "labelPadding": 4}},
    "color": {"field": "s", "type": "nominal", "scale": {"domain": ["ESA-CCI","ORAS","ACCESS-OM2-ERA5","notens-nogi","ry93","elps-min"], "range": ["#b349d4","#5fe07a","#e69f00","#999999","#d55e00","#0072b2"]},
              "legend": {"orient": "none", "legendX": 379, "legendY": 6, "title": null}}
  },
  "layer": [
    {"transform": [{"filter": "datum.lo != null"}],
     "mark": {"type": "area", "opacity": 0.22, "interpolate": "monotone"},
     "encoding": {
       "y": {"field": "lo", "type": "quantitative", "scale": {"domain": [0, 4], "nice": false, "zero": false}},
       "y2": {"field": "hi"}
     }},
    {"transform": [{"filter": "datum.s == 'ESA-CCI'"}],
     "mark": {"type": "line", "strokeWidth": 3},
     "encoding": {
       "y": {"field": "v", "type": "quantitative", "scale": {"domain": [0, 4], "nice": false, "zero": false}}
     }},
    {"transform": [{"filter": "datum.s != 'ESA-CCI'"}],
     "mark": {"type": "line", "strokeWidth": 3, "interpolate": "monotone"},
     "encoding": {
       "y": {"field": "v", "type": "quantitative", "scale": {"domain": [0, 4], "nice": false, "zero": false},
             "axis": {"title": "Sea Ice Thickness (m)", "domain": true, "grid": true,
                      "values": [0,0.5,1,1.5,2,2.5,3,3.5,4],
                      "labelExpr": "datum.value % 1 == 0 ? format(datum.value, 'd') : ''",
                      "gridOpacity": {"condition": {"test": "datum.value % 1 == 0 && datum.value > 0", "value": 1}, "value": 0},
                      "tickSize": {"condition": {"test": "datum.value % 1 == 0", "value": 6}, "value": 3},
                      "titlePadding": -3, "titleY": 227}}
     }}
  ]
}
],
"resolve": {"scale": {"color": "independent"}, "legend": {"color": "independent"}}
}
